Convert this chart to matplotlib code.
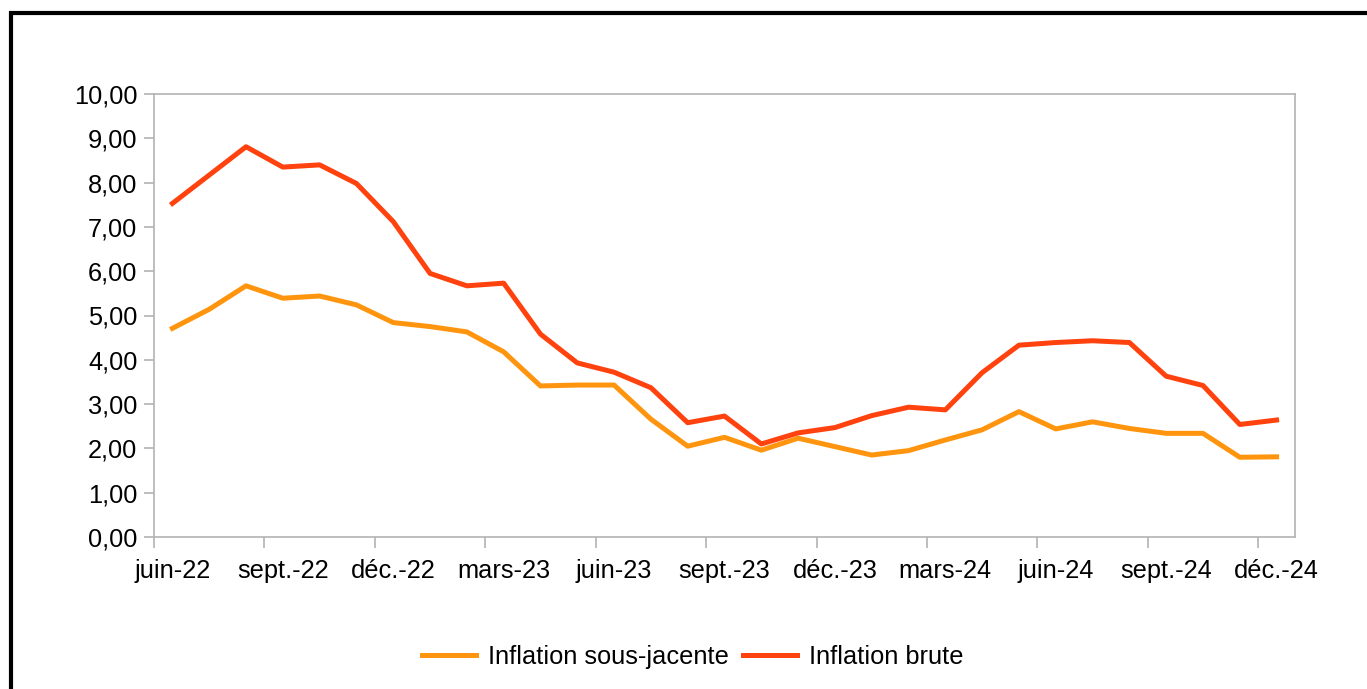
import matplotlib
matplotlib.use("Agg")
import matplotlib.pyplot as plt
import matplotlib.patches as patches
import numpy as np

plt.rcParams['font.family'] = ['Liberation Sans', 'DejaVu Sans']

tick_labels = ["juin-22", "sept.-22", "déc.-22", "mars-23", "juin-23", "sept.-23",
               "déc.-23", "mars-24", "juin-24", "sept.-24", "déc.-24"]

inflation_sous_jacente = [4.71, 5.14, 5.67, 5.39, 5.44, 5.24, 4.84, 4.75, 4.63, 4.18,
                          3.41, 3.43, 3.43, 2.66, 2.05, 2.25, 1.96, 2.23, 2.04, 1.85,
                          1.95, 2.19, 2.42, 2.83, 2.44, 2.60, 2.45, 2.34, 2.34, 1.80, 1.81]
inflation_brute = [7.53, 8.17, 8.81, 8.35, 8.40, 7.98, 7.12, 5.95, 5.67, 5.73,
                   4.58, 3.93, 3.72, 3.37, 2.58, 2.73, 2.10, 2.35, 2.47, 2.74,
                   2.93, 2.87, 3.71, 4.33, 4.39, 4.43, 4.39, 3.63, 3.42, 2.54, 2.64]

W, H = 1367, 689
fs = 18.3
fig = plt.figure(figsize=(W / 100, H / 100), dpi=100)
ax = fig.add_axes([154 / W, 1 - 537 / H, (1295 - 154) / W, (537 - 94) / H])

months = np.arange(len(inflation_brute)) + 0.5
c_orange = "#ff950e"
c_red = "#ff420e"
ax.plot(months, inflation_sous_jacente, color=c_orange, lw=3.6, label="Inflation sous-jacente")
ax.plot(months, inflation_brute, color=c_red, lw=3.6, label="Inflation brute")

ax.set_xlim(0, 31)
ax.set_ylim(0, 10)
tick_pos = np.arange(len(tick_labels)) * 3
ax.set_xticks(tick_pos)
ax.set_xticklabels([])
ax.set_xticks(tick_pos + 0.5, minor=True)
ax.set_xticklabels(tick_labels, minor=True)
ax.set_yticks(np.arange(0, 11, 1))
ax.set_yticklabels([f"{v:.2f}".replace(".", ",") for v in np.arange(0, 11, 1)])

gray = "#b3b3b3"
for s in ax.spines.values():
    s.set_color(gray)
    s.set_linewidth(1.2)
ax.tick_params(axis="both", which="both", colors=gray, labelcolor="black", labelsize=fs, width=1.2)
ax.tick_params(axis="y", length=7, pad=5)
ax.tick_params(axis="x", which="major", length=8)
ax.tick_params(axis="x", which="minor", length=0, pad=16)

fig.legend(loc="center", bbox_to_anchor=(693 / W, 1 - 657 / H), ncol=2, frameon=False,
           fontsize=fs, handlelength=2.1, handletextpad=0.5, columnspacing=0.55)

rect = patches.Rectangle((10.5 / W, -0.1), 2, 1 - 12.5 / H + 0.1, transform=fig.transFigure,
                         fill=False, edgecolor="black", lw=3)
fig.patches.append(rect)

fig.savefig("out.png", dpi=100)
